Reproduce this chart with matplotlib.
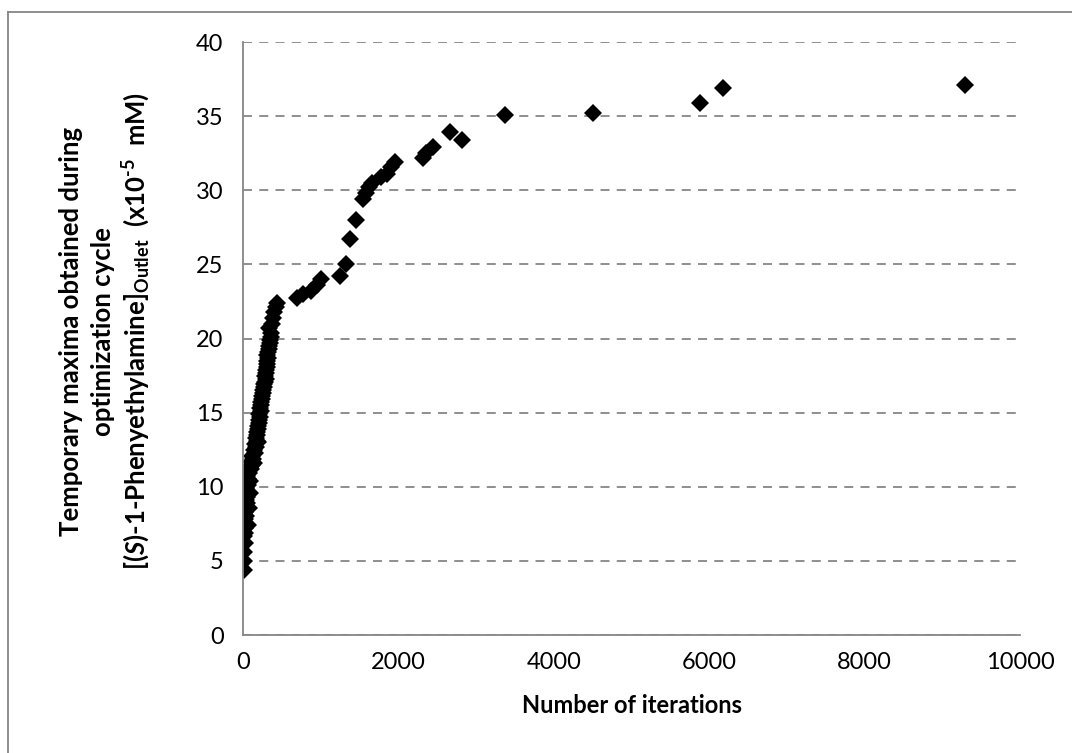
import matplotlib
matplotlib.use("Agg")
import matplotlib.pyplot as plt
from matplotlib.lines import Line2D

# temporary maxima vs iteration count
iterations = [
    15, 18, 15, 20, 18, 22, 25, 30, 20, 35, 28, 40, 25, 45, 35, 50, 30, 55, 40, 60,
    45, 70, 55, 80, 65, 90, 110, 100, 130, 120, 150, 140, 165, 155, 175, 170, 185, 180,
    195, 190, 205, 200, 215, 210, 225, 220, 235, 230, 245, 250, 260, 255, 270, 265, 280,
    290, 285, 300, 295, 310, 305, 315, 320, 310, 325, 335, 330, 345, 350, 355, 360, 340,
    370, 385, 400, 420, 440,
    75, 85, 95, 105, 5, 8, 60, 140, 190,
    700, 770, 880, 950, 1010, 1250, 1320, 1380, 1450, 1540, 1580, 1620, 1665, 1770,
    1850, 1900, 1950, 2310, 2360, 2450, 2670, 2820, 3370, 4510, 5880, 6180, 9290,
]
maxima = [
    4.4, 5.0, 5.6, 6.2, 6.7, 6.9, 7.2, 7.5, 7.8, 8.0, 8.3, 8.5, 8.7, 8.9, 9.1, 9.3, 9.5,
    9.7, 9.9, 10.1, 10.3, 10.5, 10.7, 10.9, 11.1, 11.3, 11.5, 11.7, 11.9, 12.1, 12.3,
    12.5, 12.7, 12.9, 13.1, 13.3, 13.5, 13.7, 13.9, 14.1, 14.3, 14.5, 14.7, 14.9, 15.1,
    15.3, 15.5, 15.7, 15.9, 16.1, 16.3, 16.5, 16.7, 16.9, 17.1, 17.3, 17.5, 17.7, 17.9,
    18.1, 18.3, 18.5, 18.7, 18.9, 19.1, 19.3, 19.5, 19.7, 19.9, 20.1, 20.4, 20.7, 21.0,
    21.4, 21.8, 22.1, 22.4,
    8.6, 9.6, 10.4, 11.2, 8.2, 10.0, 7.4, 11.6, 13.0,
    22.7, 23.0, 23.2, 23.6, 24.0, 24.2, 25.0, 26.7, 28.0, 29.4, 29.8, 30.2, 30.5, 30.9,
    31.1, 31.6, 31.9, 32.2, 32.5, 32.9, 33.9, 33.4, 35.1, 35.2, 35.9, 36.9, 37.1,
]

x_ticks = [0, 2000, 4000, 6000, 8000, 10000]
y_ticks = [0, 5, 10, 15, 20, 25, 30, 35, 40]

plt.rcParams['font.family'] = ['Lato', 'DejaVu Sans']
plt.rcParams['mathtext.fontset'] = 'custom'
plt.rcParams['mathtext.rm'] = 'Lato:bold'
plt.rcParams['mathtext.it'] = 'Lato:italic:bold'
plt.rcParams['mathtext.bf'] = 'Lato:bold'
plt.rcParams['mathtext.default'] = 'rm'

grey = '#868686'

fig = plt.figure(figsize=(10.72, 7.53), dpi=100)
ax = fig.add_axes([0.2267, 0.1567, 0.7248, 0.7875])

ax.plot(iterations, maxima, linestyle='none', marker='D', markersize=9,
        color='black', markeredgewidth=0)

ax.set_xlim(0, 10000)
ax.set_ylim(0, 40)
ax.set_xticks(x_ticks)
ax.set_yticks(y_ticks)
ax.tick_params(length=0, labelsize=17, pad=12)
ax.tick_params(axis='y', pad=14)

ax.yaxis.grid(True, color=grey, linestyle=(0, (5, 4)), linewidth=1.3)
ax.set_axisbelow(True)
for side in ['top', 'right']:
    ax.spines[side].set_visible(False)
for side in ['left', 'bottom']:
    ax.spines[side].set_color(grey)
    ax.spines[side].set_linewidth(1.3)

ax.set_xlabel('Number of iterations', fontsize=17, fontweight='bold', labelpad=15)

# three-line y label
yc = 0.56
fig.text(0.066, yc, 'Temporary maxima obtained during', rotation=90,
         ha='center', va='center', fontsize=18.5, fontweight='bold')
fig.text(0.096, yc, 'optimization cycle', rotation=90,
         ha='center', va='center', fontsize=18.5, fontweight='bold')
fig.text(0.127, yc,
         r'[($\mathit{S}$)-1-Phenyethylamine]$_{Outlet}$  (x10$^{\text{-5}}$  mM)',
         rotation=90, ha='center', va='center', fontsize=18.5, fontweight='bold')

# outer frame (only top and left edges survive in the original crop)
fig.add_artist(Line2D([0.0075, 1.0], [0.984, 0.984], transform=fig.transFigure,
                      color=grey, linewidth=1.3))
fig.add_artist(Line2D([0.0075, 0.0075], [0.0, 0.984], transform=fig.transFigure,
                      color=grey, linewidth=1.3))

fig.savefig('out.png', dpi=100)
